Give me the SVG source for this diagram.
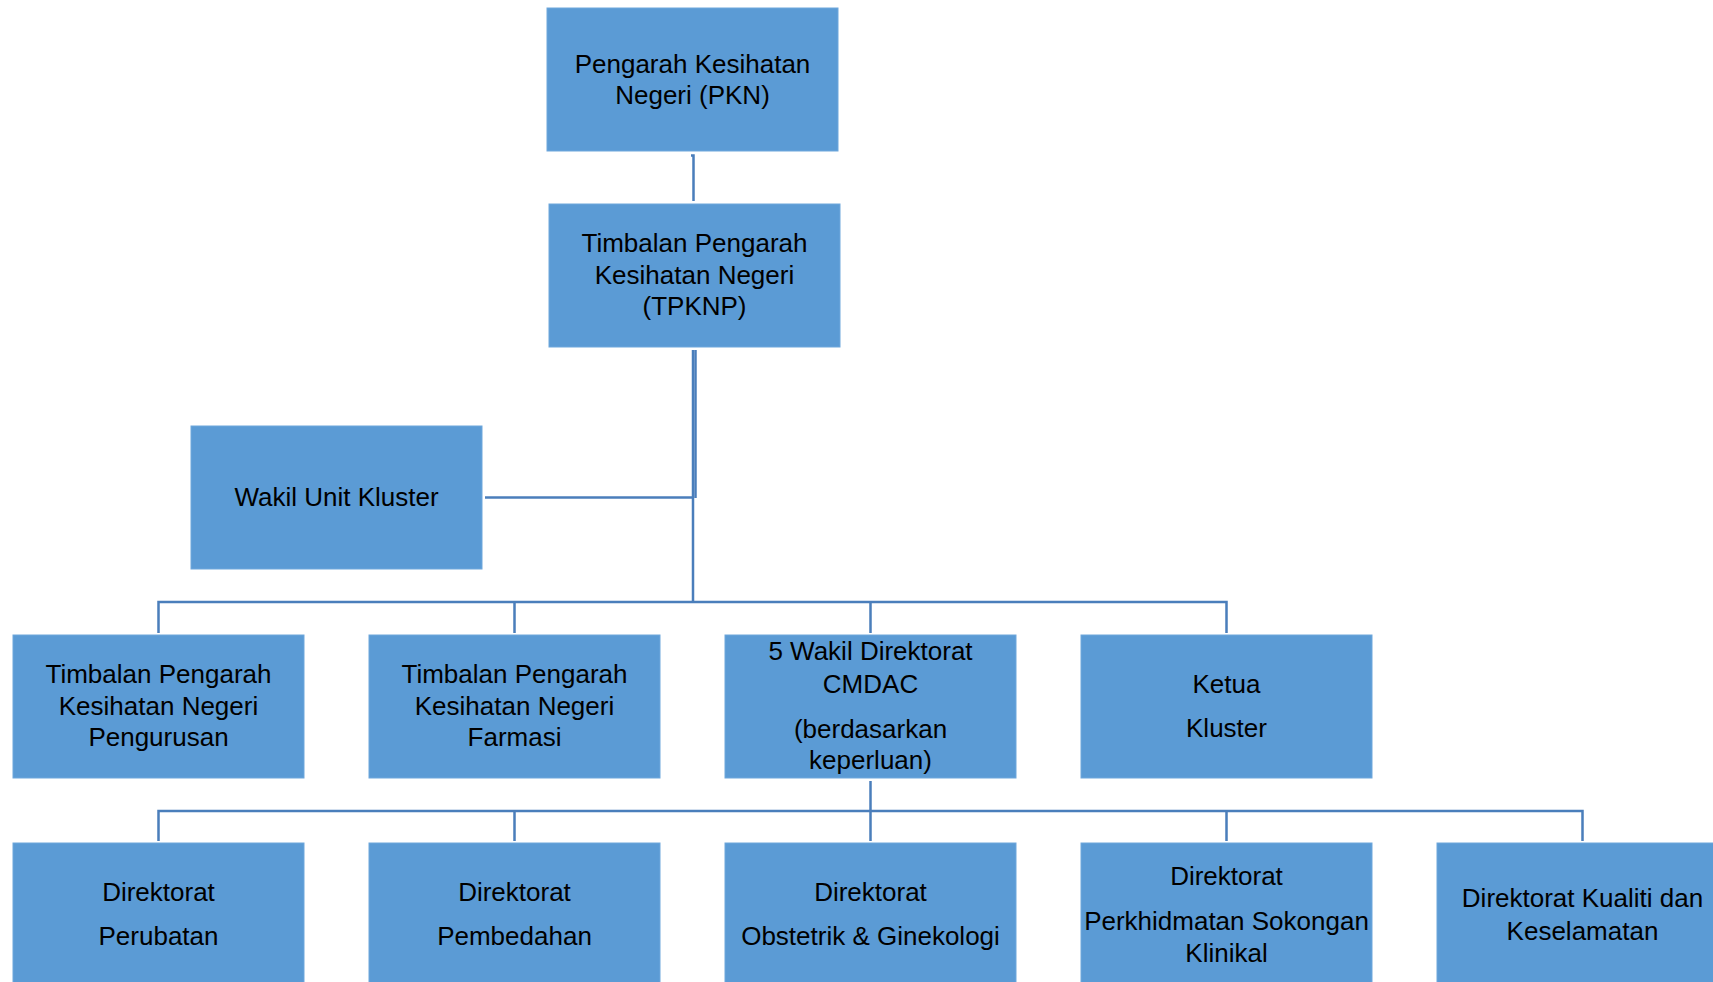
<svg xmlns="http://www.w3.org/2000/svg" width="1713" height="982" viewBox="0 0 1713 982">
<style>
.box{fill:#5B9BD5;stroke:#6FA7DC;stroke-width:1}
.t{font-family:"Liberation Sans",Arial,sans-serif;font-size:26px;fill:#000;text-anchor:middle}
.c{fill:none;stroke:#4A7EBB;stroke-width:2.5}
</style>
<rect width="1713" height="982" fill="#fff"/>
<g id="connectors">
<path class="c" d="M691,155.5H693.5V201"/>
<path class="c" d="M693,350V602"/>
<path class="c" d="M695.5,350V498"/>
<path class="c" d="M485,497.5H694"/>
<path class="c" d="M158.5,633V602H1226.5V633M514.5,602V633M870.5,602V633"/>
<path class="c" d="M870.5,781V811"/>
<path class="c" d="M158.5,841V811H1582.5V841M514.5,811V841M870.5,811V841M1226.5,811V841"/>
</g>
<g id="pkn"><rect class="box" x="547" y="8" width="291" height="143"/>
<text class="t" x="692.5" y="72.5">Pengarah Kesihatan</text><text class="t" x="692.5" y="103.5">Negeri (PKN)</text></g>
<g id="tpknp"><rect class="box" x="549" y="204" width="291" height="143"/>
<text class="t" x="694.5" y="252">Timbalan Pengarah</text><text class="t" x="694.5" y="283.5">Kesihatan Negeri</text><text class="t" x="694.5" y="314.5">(TPKNP)</text></g>
<g id="wakil-unit-kluster"><rect class="box" x="191" y="426" width="291" height="143"/>
<text class="t" x="336.5" y="506">Wakil Unit Kluster</text></g>
<g id="tpkn-pengurusan"><rect class="box" x="13" y="635" width="291" height="143"/>
<text class="t" x="158.5" y="683">Timbalan Pengarah</text><text class="t" x="158.5" y="714.5">Kesihatan Negeri</text><text class="t" x="158.5" y="746">Pengurusan</text></g>
<g id="tpkn-farmasi"><rect class="box" x="369" y="635" width="291" height="143"/>
<text class="t" x="514.5" y="683">Timbalan Pengarah</text><text class="t" x="514.5" y="714.5">Kesihatan Negeri</text><text class="t" x="514.5" y="746">Farmasi</text></g>
<g id="wakil-cmdac"><rect class="box" x="725" y="635" width="291" height="143"/>
<text class="t" x="870.5" y="659.5">5 Wakil Direktorat</text><text class="t" x="870.5" y="692.5">CMDAC</text><text class="t" x="870.5" y="737.5">(berdasarkan</text><text class="t" x="870.5" y="768.5">keperluan)</text></g>
<g id="ketua-kluster"><rect class="box" x="1081" y="635" width="291" height="143"/>
<text class="t" x="1226.5" y="692.5">Ketua</text><text class="t" x="1226.5" y="736.5">Kluster</text></g>
<g id="dir-perubatan"><rect class="box" x="13" y="843" width="291" height="143"/>
<text class="t" x="158.5" y="900.5">Direktorat</text><text class="t" x="158.5" y="945">Perubatan</text></g>
<g id="dir-pembedahan"><rect class="box" x="369" y="843" width="291" height="143"/>
<text class="t" x="514.5" y="900.5">Direktorat</text><text class="t" x="514.5" y="945">Pembedahan</text></g>
<g id="dir-og"><rect class="box" x="725" y="843" width="291" height="143"/>
<text class="t" x="870.5" y="900.5">Direktorat</text><text class="t" x="870.5" y="945">Obstetrik &amp; Ginekologi</text></g>
<g id="dir-psk"><rect class="box" x="1081" y="843" width="291" height="143"/>
<text class="t" x="1226.5" y="885">Direktorat</text><text class="t" x="1226.5" y="929.5">Perkhidmatan Sokongan</text><text class="t" x="1226.5" y="962">Klinikal</text></g>
<g id="dir-kualiti"><rect class="box" x="1437" y="843" width="291" height="143"/>
<text class="t" x="1582.5" y="907">Direktorat Kualiti dan</text><text class="t" x="1582.5" y="939.5">Keselamatan</text></g>
</svg>
